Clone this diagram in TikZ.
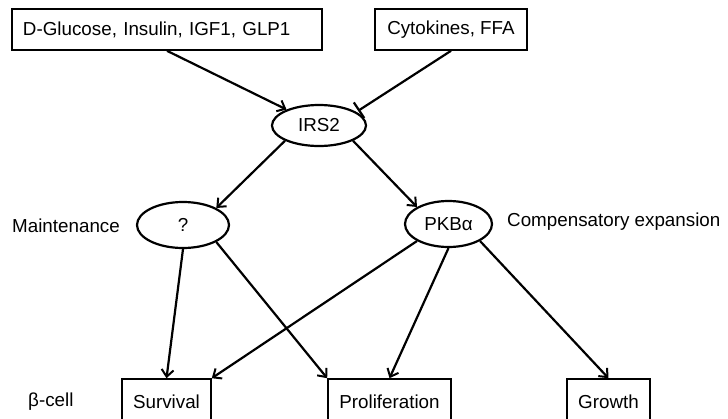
\documentclass[tikz,border=0pt]{standalone}
\usepackage{fontspec}
\setmainfont{Liberation Sans}
\usetikzlibrary{shapes.geometric,arrows.meta,calc}
\begin{document}
\begin{tikzpicture}[x=1pt,y=-1pt,
  every node/.style={font=\fontsize{18.8}{23}\selectfont, inner sep=0pt},
  box/.style={draw, line width=1.6pt, rectangle},
  oval/.style={draw, line width=2.2pt, ellipse},
  act/.style={line width=2.2pt, -{Straight Barb[length=7pt,width=12pt,line width=2pt]}},
  inh/.style={line width=2.2pt},
  lab/.style={anchor=west}]
\useasboundingbox (0,0) rectangle (728,418);
\node[box, minimum height=41pt, text width=288pt, inner xsep=11pt, align=left] (g) at (167,29.5) {D-Glucose, Insulin, IGF1, GLP1};
\node[box, minimum width=152pt, minimum height=41pt] (c) at (451,29.5) {Cytokines, FFA};
\node[oval, minimum width=94pt, minimum height=41pt] (irs) at (319,125.5) {IRS2};
\node[oval, minimum width=92pt, minimum height=46pt] (q) at (183,225) {?};
\node[oval, minimum width=87pt, minimum height=46pt] (pkb) at (448.5,224) {PKBα};
\node[lab] (mt) at (12,226) {Maintenance};
\node[lab] (ce) at (507,222) {Compensatory expansion};
\node[lab] (bc) at (28,402) {β-cell};
\node[box, minimum width=89pt, minimum height=46pt] (s) at (166.5,402) {Survival};
\node[box, minimum width=123pt, minimum height=46pt] (p) at (389.5,402) {Proliferation};
\node[box, minimum width=83pt, minimum height=46pt] (gr) at (608.5,402) {Growth};
\draw[act] (g.south) -- (irs);
\coordinate (te) at ($(irs.north east)+(6,0)$);
\draw[inh] (c.south) -- (te);
\draw[inh] ($(te)+(5.2,7.8)$) -- ($(te)-(5.2,7.8)$);
\draw[act] (irs.south west) -- (q.north east);
\draw[act] (irs.south east) -- (pkb.north west);
\draw[act] (q.south) -- (s.north);
\draw[act] (q.south east) -- (p.north west);
\draw[act] (pkb.south west) -- (s.north east);
\draw[act] (pkb.south) -- (p.north);
\draw[act] (pkb.south east) -- (gr.north);
\end{tikzpicture}
\end{document}
